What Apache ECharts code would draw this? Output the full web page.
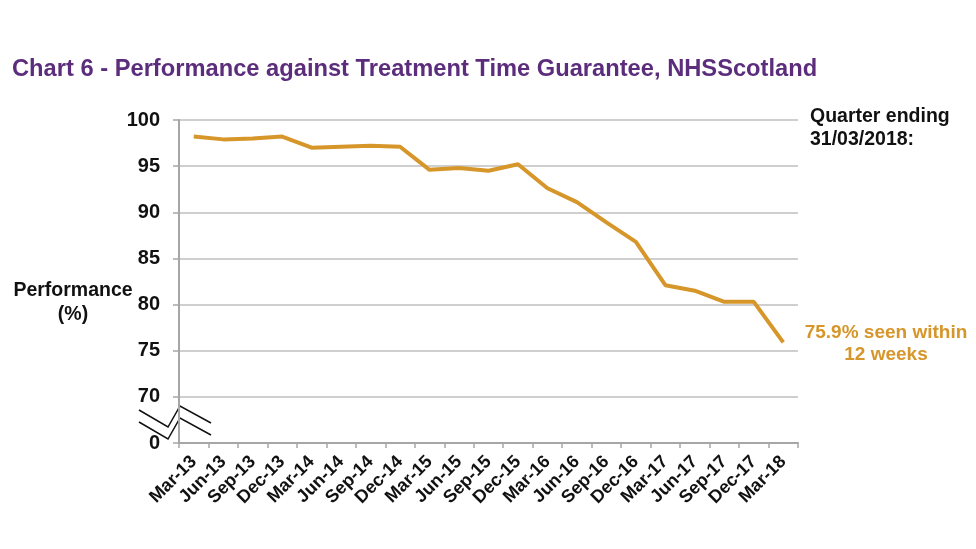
<!DOCTYPE html>
<html><head><meta charset="utf-8">
<script src="https://cdn.jsdelivr.net/npm/echarts@6/dist/echarts.min.js"></script>
<style>html,body{margin:0;padding:0;background:#fff}#c{width:976px;height:549px}</style>
</head><body><div id="c"></div>
<script>
var categories = ['Mar-13','Jun-13','Sep-13','Dec-13','Mar-14','Jun-14','Sep-14','Dec-14','Mar-15','Jun-15','Sep-15','Dec-15','Mar-16','Jun-16','Sep-16','Dec-16','Mar-17','Jun-17','Sep-17','Dec-17','Mar-18'];
var performance = [98.2,97.9,98.0,98.2,97.0,97.1,97.2,97.1,94.6,94.8,94.5,95.2,92.6,91.1,88.9,86.8,82.1,81.5,80.3,80.3,75.9];
var yTicks = {min:65, max:100, step:5, bottomLabel:'0'};
var titleText = 'Chart 6 - Performance against Treatment Time Guarantee, NHSScotland';
var noteText = 'Quarter ending\n31/03/2018:';
var calloutText = '75.9% seen within\n12 weeks';
var yName = 'Performance\n(%)';

var FONT = '"Liberation Sans", Arial, sans-serif';
var chart = echarts.init(document.getElementById('c'), null, {renderer:'canvas'});
var G = {left:179, top:120, right:178, bottom:106};
var option = {
  animation:false,
  title:{text:titleText, left:7, top:52, textStyle:{color:'#5c2d7c', fontFamily:FONT, fontWeight:'bold', fontSize:23.7}},
  grid:G,
  xAxis:{type:'category', data:categories, boundaryGap:true,
    axisLine:{lineStyle:{color:'#a6a6a6', width:2}},
    axisTick:{show:true, length:5, lineStyle:{color:'#a6a6a6', width:1.5}},
    axisLabel:{rotate:45, interval:0, color:'#111', fontFamily:FONT, fontWeight:'bold', fontSize:18, margin:16}},
  yAxis:{type:'value', min:yTicks.min, max:yTicks.max, interval:yTicks.step,
    axisLine:{show:true, lineStyle:{color:'#a6a6a6', width:2}},
    axisTick:{show:true, length:6, lineStyle:{color:'#a6a6a6', width:1.5}},
    splitLine:{lineStyle:{color:'#bfbfbf', width:1.5}},
    axisLabel:{color:'#111', fontFamily:FONT, fontWeight:'bold', fontSize:20, margin:19,
      formatter:function(v){return v===yTicks.min? yTicks.bottomLabel : String(v);}}},
  series:[{type:'line', data:performance, symbol:'none', lineStyle:{color:'#d6962a', width:4}, itemStyle:{color:'#d6962a'}}],
  graphic:[
    {type:'text', x:73, y:279, style:{text:yName, fill:'#111', font:'bold 19.5px '+FONT, textAlign:'center', lineHeight:24}},
    {type:'text', x:810, y:105, style:{text:noteText, fill:'#111', font:'bold 19.5px '+FONT, lineHeight:23}},
    {type:'text', x:886, y:322, style:{text:calloutText, fill:'#d6962a', font:'bold 19px '+FONT, textAlign:'center', lineHeight:22}},
    {type:'polyline', shape:{points:[[139,410],[168,427],[180,406],[211,423]]}, style:{stroke:'#111', lineWidth:1.5, fill:null}},
    {type:'polyline', shape:{points:[[139,422],[168,439],[180,418],[211,435]]}, style:{stroke:'#111', lineWidth:1.5, fill:null}}
  ]
};
chart.setOption(option);
</script></body></html>
